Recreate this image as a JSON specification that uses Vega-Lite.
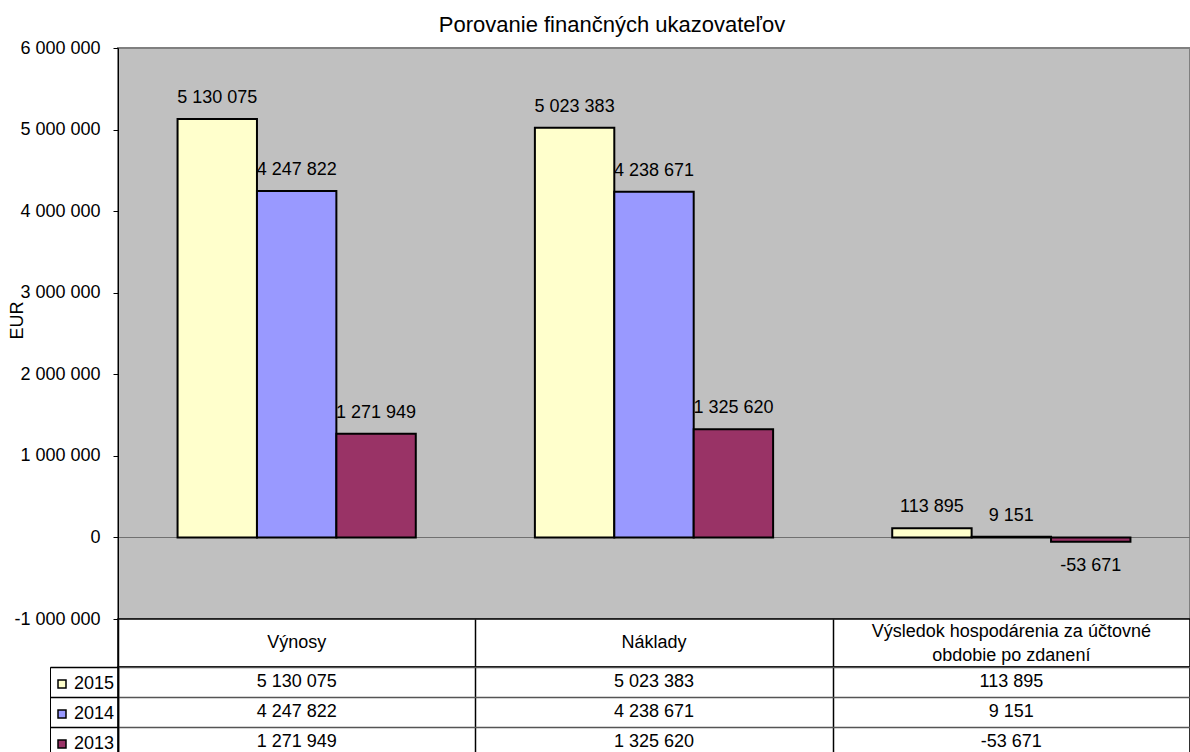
{
  "$schema": "https://vega.github.io/schema/vega-lite/v6.json",
  "background": "white",
  "padding": {"left": 7, "top": 14, "right": 0, "bottom": 0},
  "autosize": {"type": "pad"},
  "title": {"text": "Porovanie finančných ukazovateľov", "fontSize": 22, "fontWeight": "normal", "color": "#000", "font": "Liberation Sans", "anchor": "middle", "offset": 1, "dx": 13},
  "spacing": 0,
  "bounds": "flush",
  "datasets": {
    "vals": [
      {"ind": "Výnosy", "year": "2015", "value": 5130075},
      {"ind": "Výnosy", "year": "2014", "value": 4247822},
      {"ind": "Výnosy", "year": "2013", "value": 1271949},
      {"ind": "Náklady", "year": "2015", "value": 5023383},
      {"ind": "Náklady", "year": "2014", "value": 4238671},
      {"ind": "Náklady", "year": "2013", "value": 1325620},
      {"ind": "Výsledok hospodárenia za účtovné obdobie po zdanení", "year": "2015", "value": 113895},
      {"ind": "Výsledok hospodárenia za účtovné obdobie po zdanení", "year": "2014", "value": 9151},
      {"ind": "Výsledok hospodárenia za účtovné obdobie po zdanení", "year": "2013", "value": -53671}
    ],
    "heads": [
      {"ind": "Výnosy", "label": "Výnosy"},
      {"ind": "Náklady", "label": "Náklady"},
      {"ind": "Výsledok hospodárenia za účtovné obdobie po zdanení", "label": "Výsledok hospodárenia za účtovné\nobdobie po zdanení"}
    ]
  },
  "vconcat": [
    {
      "width": 1072,
      "height": 571,
      "view": {"fill": "#C0C0C0", "stroke": "#808080", "strokeWidth": 2},
      "data": {"name": "vals"},
      "layer": [
        {
          "mark": {"type": "bar", "stroke": "#000", "strokeWidth": 2},
          "encoding": {
            "x": {"field": "ind", "type": "nominal", "sort": ["Výnosy", "Náklady", "Výsledok hospodárenia za účtovné obdobie po zdanení"], "scale": {"paddingInner": 0, "paddingOuter": 0}, "axis": null},
            "xOffset": {"field": "year", "type": "nominal", "sort": ["2015", "2014", "2013"], "scale": {"paddingInner": 0, "paddingOuter": 0.75}},
            "y": {
              "field": "value", "type": "quantitative",
              "scale": {"domain": [-1000000, 6000000], "nice": false, "zero": false},
              "axis": {
                "title": "EUR", "values": [-1000000, 0, 1000000, 2000000, 3000000, 4000000, 5000000, 6000000],
                "format": ",d", "grid": true,
                "gridColor": {"condition": {"test": "datum.value === 0", "value": "#707070"}, "value": "transparent"},
                "gridWidth": 1, "gridOpacity": 1,
                "tickSize": 5, "labelPadding": 13,
                "domainColor": "#000", "tickColor": "#000", "labelColor": "#000", "labelFontSize": 18,
                "titleFontSize": 18, "titleFontWeight": "normal", "titleColor": "#000", "titleX": -92, "titleY": 272
              }
            },
            "fill": {"field": "year", "type": "nominal", "scale": {"domain": ["2015", "2014", "2013"], "range": ["#FFFFCC", "#9999FF", "#993366"]}, "legend": null}
          }
        },
        {
          "transform": [{"filter": "datum.value >= 0"}],
          "mark": {"type": "text", "fontSize": 18, "color": "#000", "baseline": "middle", "dy": -21},
          "encoding": {
            "x": {"field": "ind", "type": "nominal", "sort": ["Výnosy", "Náklady", "Výsledok hospodárenia za účtovné obdobie po zdanení"], "axis": null},
            "xOffset": {"field": "year", "type": "nominal", "sort": ["2015", "2014", "2013"]},
            "y": {"field": "value", "type": "quantitative"},
            "text": {"field": "value", "type": "quantitative", "format": ",d"}
          }
        },
        {
          "transform": [{"filter": "datum.value < 0"}],
          "mark": {"type": "text", "fontSize": 18, "color": "#000", "baseline": "middle", "dy": 24},
          "encoding": {
            "x": {"field": "ind", "type": "nominal", "sort": ["Výnosy", "Náklady", "Výsledok hospodárenia za účtovné obdobie po zdanení"], "axis": null},
            "xOffset": {"field": "year", "type": "nominal", "sort": ["2015", "2014", "2013"]},
            "y": {"field": "value", "type": "quantitative"},
            "text": {"field": "value", "type": "quantitative", "format": ",d"}
          }
        }
      ]
    },
    {
      "width": 1072,
      "height": 48,
      "view": {"fill": "white", "stroke": "#000", "strokeWidth": 1.5},
      "data": {"name": "heads"},
      "layer": [
        {
          "transform": [{"filter": "length(datum.label) < 20"}],
          "mark": {"type": "text", "fontSize": 18, "color": "#000", "baseline": "middle"},
          "encoding": {
            "x": {"field": "ind", "type": "nominal", "sort": ["Výnosy", "Náklady", "Výsledok hospodárenia za účtovné obdobie po zdanení"], "scale": {"paddingInner": 0, "paddingOuter": 0},
                  "axis": {"labels": false, "ticks": false, "domain": false, "grid": true, "tickBand": "extent", "gridColor": "#000", "gridWidth": 1.5, "gridOpacity": 1, "title": null}},
            "text": {"field": "label", "type": "nominal"}
          }
        },
        {
          "transform": [{"filter": "length(datum.label) >= 20"}],
          "mark": {"type": "text", "fontSize": 18, "color": "#000", "baseline": "middle", "lineBreak": "\n", "lineHeight": 24, "dy": -11},
          "encoding": {
            "x": {"field": "ind", "type": "nominal", "sort": ["Výnosy", "Náklady", "Výsledok hospodárenia za účtovné obdobie po zdanení"]},
            "text": {"field": "label", "type": "nominal"}
          }
        }
      ]
    },
    {
      "width": 1072,
      "height": 90,
      "view": {"fill": "white", "stroke": "#000", "strokeWidth": 1.5},
      "data": {"name": "vals"},
      "layer": [
        {
          "mark": {"type": "text", "fontSize": 18, "color": "#000", "baseline": "middle"},
          "encoding": {
            "x": {"field": "ind", "type": "nominal", "sort": ["Výnosy", "Náklady", "Výsledok hospodárenia za účtovné obdobie po zdanení"], "scale": {"paddingInner": 0, "paddingOuter": 0},
                  "axis": {"labels": false, "ticks": false, "domain": false, "grid": true, "tickBand": "extent", "gridColor": "#000", "gridWidth": 1.5, "gridOpacity": 1, "title": null}},
            "y": {"field": "year", "type": "nominal", "sort": ["2015", "2014", "2013"], "scale": {"paddingInner": 0, "paddingOuter": 0},
                  "axis": {"labels": false, "ticks": true, "tickBand": "extent", "tickSize": 68, "tickColor": "#000", "tickWidth": 1.5, "domain": true, "domainColor": "#000", "domainWidth": 1.5, "grid": true, "gridColor": "#555", "gridWidth": 1.5, "gridOpacity": 1, "title": null}},
            "text": {"field": "value", "type": "quantitative", "format": ",d"}
          }
        },
        {
          "mark": {"type": "square", "opacity": 0},
          "encoding": {
            "x": {"field": "ind", "type": "nominal", "sort": ["Výnosy", "Náklady", "Výsledok hospodárenia za účtovné obdobie po zdanení"]},
            "y": {"field": "year", "type": "nominal", "sort": ["2015", "2014", "2013"]},
            "color": {"field": "year", "type": "nominal", "scale": {"domain": ["2015", "2014", "2013"], "range": ["#FFFFCC", "#9999FF", "#993366"]},
                      "legend": {"orient": "none", "legendX": -68, "legendY": 0, "title": " ", "titleFontSize": 2, "titlePadding": 3, "symbolType": "square", "symbolSize": 64, "symbolStrokeColor": "#000", "symbolStrokeWidth": 1.5, "symbolOpacity": 1, "labelFontSize": 18, "labelColor": "#000", "labelOffset": 3, "rowPadding": 12, "padding": 3, "strokeColor": "#000", "direction": "vertical"}}
          }
        }
      ]
    }
  ],
  "resolve": {"scale": {"color": "independent", "xOffset": "independent"}, "legend": {"color": "independent"}},
  "config": {
    "font": "Liberation Sans",
    "locale": {"number": {"decimal": ",", "thousands": " ", "grouping": [3], "currency": ["", " €"], "minus": "-"}},
    "axis": {"labelFont": "Liberation Sans", "titleFont": "Liberation Sans"},
    "legend": {"labelFont": "Liberation Sans"},
    "text": {"font": "Liberation Sans"}
  }
}
